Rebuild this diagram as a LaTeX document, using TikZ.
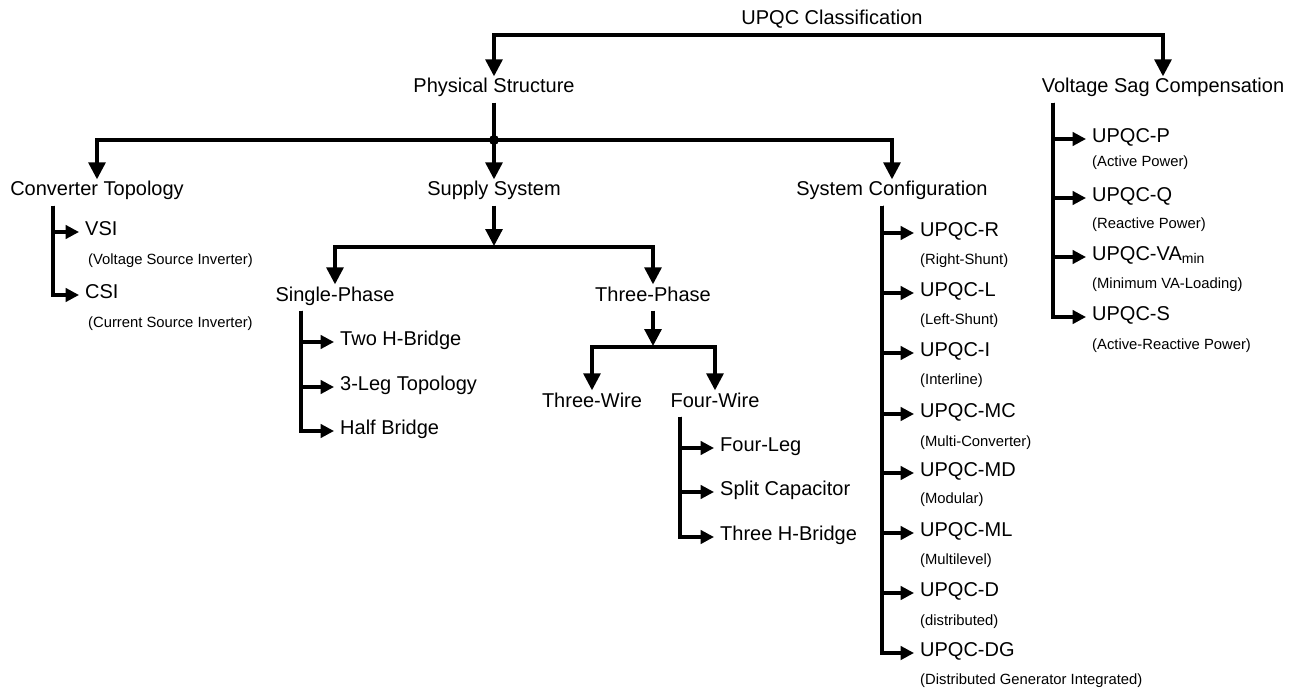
\documentclass[tikz,border=0pt]{standalone}
\usepackage{fontspec}
\setmainfont{Liberation Sans}
\usetikzlibrary{arrows.meta}
\tikzset{
  bigtip/.tip={Triangle[length=17pt,width=17pt]},
  smalltip/.tip={Triangle[length=13.5pt,width=13.5pt]},
}
\begin{document}
\begin{tikzpicture}[x=1pt,y=-1pt,
  line/.style={line width=3.2pt},
  big/.style={-bigtip},
  small/.style={-smalltip},
  lvl/.style={font=\fontsize{20}{24}\selectfont, text height=0.7em, text depth=0pt, inner xsep=0pt, inner ysep=9.5pt, anchor=base},
  item/.style={font=\fontsize{20}{24}\selectfont, text height=0.7em, text depth=0pt, inner xsep=6pt, inner ysep=0pt, anchor=west},
  sub/.style={font=\fontsize{14.8}{17}\selectfont, inner sep=0pt, anchor=base west},
]
\useasboundingbox (0,0) rectangle (1299,690);

% level 0 / 1
\node[lvl, inner ysep=0pt] (title) at (832,25) {UPQC Classification};
\node[lvl] (ps) at (494,93) {Physical Structure};
\node[lvl] (vsc) at (1163,93) {Voltage Sag Compensation};
\coordinate (top) at (832,35);
\draw[line,big] (top) -| (ps.north);
\draw[line,big] (top) -| (vsc.north);

% level 2
\node[lvl] (ct) at (97,196) {Converter Topology};
\node[lvl] (ss) at (494,196) {Supply System};
\node[lvl] (sc) at (892,196) {System Configuration};
\coordinate (j) at (494,140);
\draw[line] (ps.south) -- (j);
\draw[line,big] (j) -| (ct.north);
\draw[line,big] (j) -- (ss.north);
\draw[line,big] (j) -| (sc.north);
\fill (j) circle (5pt);

% converter topology
\coordinate (ctx) at (53,0);
\node[item] (vsi) at (79,232) {VSI};
\node[item] (csi) at (79,295) {CSI};
\draw[line,small] (ct.south -| ctx) |- (vsi.west);
\draw[line,small] (ct.south -| ctx) |- (csi.west);
\node[sub] (vsis) at (88,264) {(Voltage Source Inverter)};
\node[sub] (csis) at (88,327) {(Current Source Inverter)};

% supply system
\node[lvl] (sp) at (335,301) {Single-Phase};
\node[lvl] (tp) at (653,301) {Three-Phase};
\coordinate (sbar) at (494,247);
\coordinate (sbt) at (494,246);
\draw[line,big] (ss.south) -- (sbt);
\draw[line,big] (sbar) -| (sp.north);
\draw[line,big] (sbar) -| (tp.north);

% single phase
\coordinate (spx) at (301,0);
\node[item] (thb) at (334,342) {Two H-Bridge};
\node[item] (tlt) at (334,387) {3-Leg Topology};
\node[item] (hb) at (334,431) {Half Bridge};
\draw[line,small] (sp.south -| spx) |- (thb.west);
\draw[line,small] (sp.south -| spx) |- (tlt.west);
\draw[line,small] (sp.south -| spx) |- (hb.west);

% three phase
\node[lvl] (tw) at (592,407) {Three-Wire};
\node[lvl] (fw) at (715,407) {Four-Wire};
\coordinate (tbar) at (653,347);
\coordinate (tbt) at (653,346);
\draw[line,big] (tp.south) -- (tbt);
\draw[line,big] (tbar) -| (tw.north);
\draw[line,big] (tbar) -| (fw.north);

% four wire
\coordinate (fwx) at (680,0);
\node[item] (fl) at (714,448) {Four-Leg};
\node[item] (scap) at (714,492) {Split Capacitor};
\node[item] (th) at (714,537) {Three H-Bridge};
\draw[line,small] (fw.south -| fwx) |- (fl.west);
\draw[line,small] (fw.south -| fwx) |- (scap.west);
\draw[line,small] (fw.south -| fwx) |- (th.west);

% system configuration
\coordinate (scx) at (882,0);
\node[item] (ur) at (914,233) {UPQC-R};
\node[item] (ul) at (914,293) {UPQC-L};
\node[item] (ui) at (914,353) {UPQC-I};
\node[item] (umc) at (914,414) {UPQC-MC};
\node[item] (umd) at (914,473) {UPQC-MD};
\node[item] (uml) at (914,533) {UPQC-ML};
\node[item] (ud) at (914,593) {UPQC-D};
\node[item] (udg) at (914,653) {UPQC-DG};
\foreach \n in {ur,ul,ui,umc,umd,uml,ud,udg}
  \draw[line,small] (sc.south -| scx) |- (\n.west);
\node[sub] (urs) at (920,264) {(Right-Shunt)};
\node[sub] (uls) at (920,324) {(Left-Shunt)};
\node[sub] (uis) at (920,384) {(Interline)};
\node[sub] (umcs) at (920,446) {(Multi-Converter)};
\node[sub] (umds) at (920,503) {(Modular)};
\node[sub] (umls) at (920,564) {(Multilevel)};
\node[sub] (uds) at (920,625) {(distributed)};
\node[sub] (udgs) at (920,684) {(Distributed Generator Integrated)};

% voltage sag compensation
\coordinate (vx) at (1053,0);
\node[item] (up) at (1086,139) {UPQC-P};
\node[item] (uq) at (1086,198) {UPQC-Q};
\node[item] (uva) at (1086,257) {UPQC-VA\textsubscript{min}};
\node[item] (us) at (1086,317) {UPQC-S};
\foreach \n in {up,uq,uva,us}
  \draw[line,small] (vsc.south -| vx) |- (\n.west);
\node[sub] (ups) at (1092,167) {(Active Power)};
\node[sub] (uqs) at (1092,228) {(Reactive Power)};
\node[sub] (uvas) at (1092,288) {(Minimum VA-Loading)};
\node[sub] (uss) at (1092,349) {(Active-Reactive Power)};
\end{tikzpicture}
\end{document}
